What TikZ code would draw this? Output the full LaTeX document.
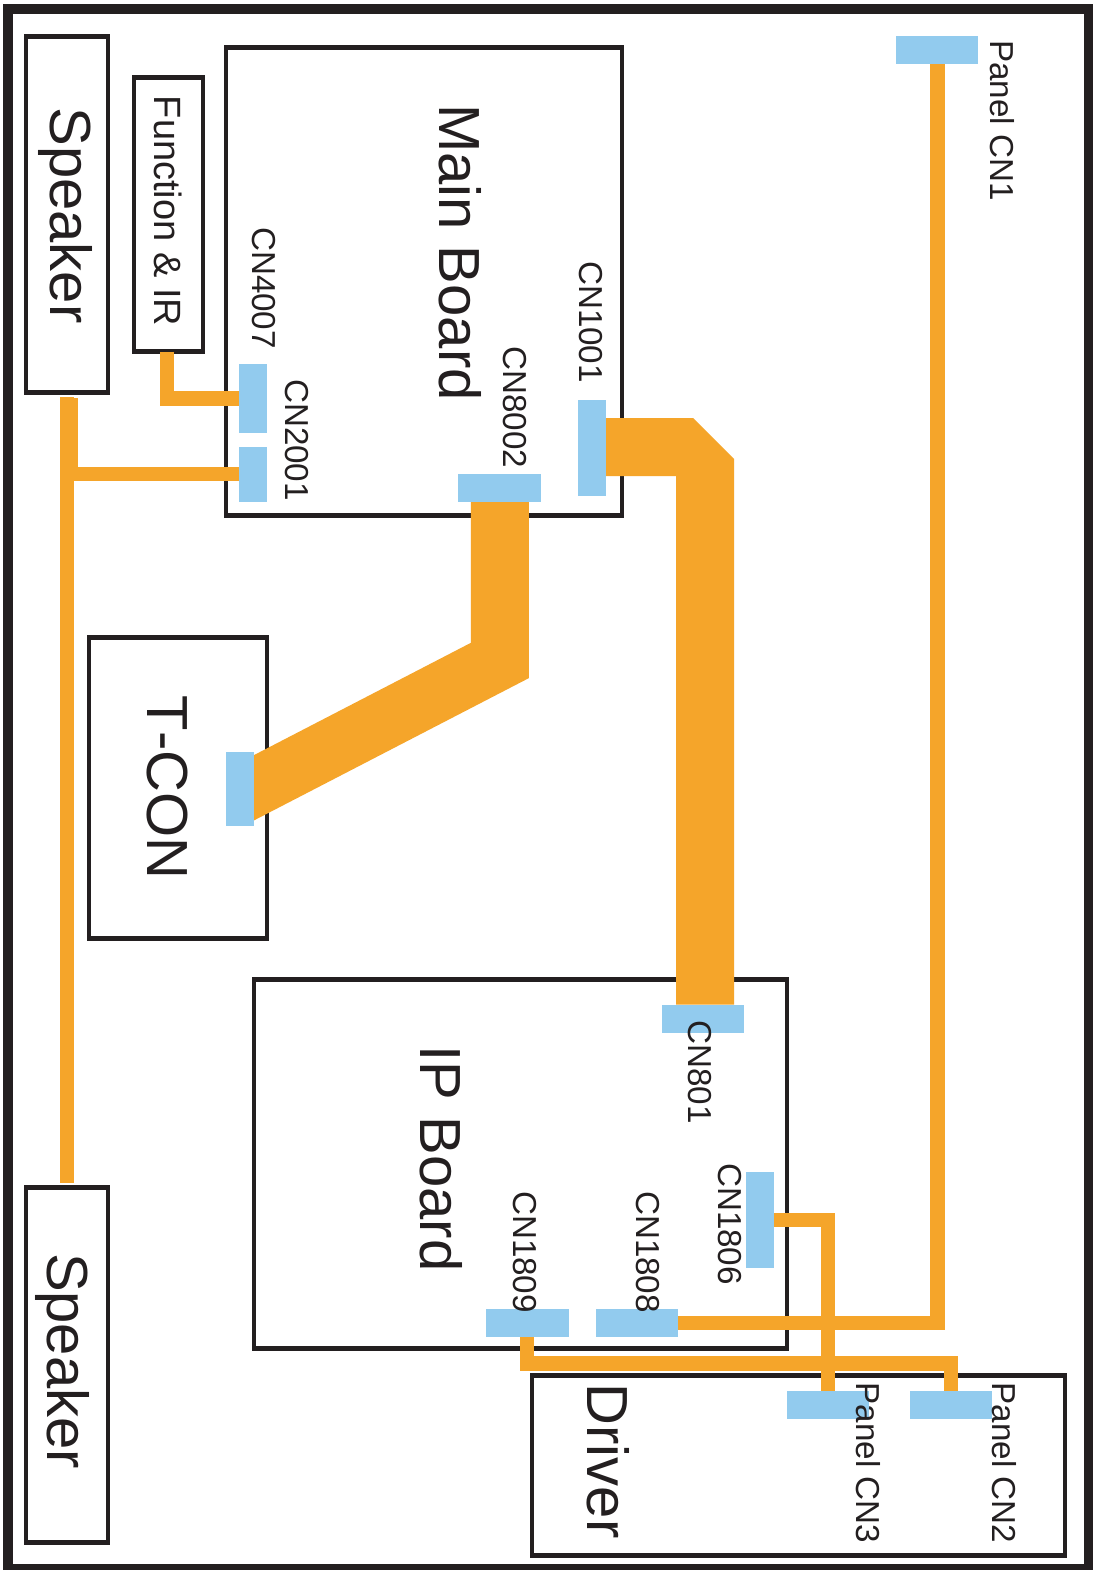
\documentclass[tikz,border=0pt]{standalone}
\usepackage{fontspec}
\setmainfont[Kerning=Off]{Liberation Sans}
\definecolor{ink}{HTML}{231F20}
\definecolor{wirecol}{HTML}{F5A52A}
\definecolor{plug}{HTML}{92CBEE}
\pgfdeclarelayer{boards}
\pgfdeclarelayer{wires}
\pgfsetlayers{boards,wires,main}
\tikzset{
  boardbox/.style={draw=ink,line width=4.7pt,fill=white,inner sep=0pt,outer sep=0pt},
  framebox/.style={draw=ink,line width=9.5pt,inner sep=0pt,outer sep=0pt,minimum width=1080.5pt,minimum height=1559.5pt},
  plugh/.style={fill=plug,inner sep=0pt,outer sep=0pt,minimum width=82.5pt,minimum height=28pt},
  plugv/.style={fill=plug,inner sep=0pt,outer sep=0pt,minimum width=28pt},
  wire/.style={draw=wirecol,line width=14.5pt,line join=miter},
  widewire/.style={draw=wirecol,line width=58pt,line join=miter,miter limit=10},
  lab/.style={rotate=-90,anchor=base,inner sep=0pt,text=ink,yshift=2.5pt},
  big/.style={lab,font=\fontsize{58}{58}\selectfont},
  mid/.style={lab,font=\fontsize{38}{38}\selectfont},
  small/.style={lab,font=\fontsize{33.2}{33.2}\selectfont}
}
\begin{document}
\begin{tikzpicture}[x=1pt,y=-1pt]
\useasboundingbox (0,0) rectangle (1093,1570);
\begin{pgfonlayer}{boards}
\fill[white] (0,0) rectangle (1093,1570);
\node[framebox] (frame) at (548.25,788.75) {};
\node[boardbox,minimum width=82pt,minimum height=356pt] (spkA) at (67,214.5) {};
\node[boardbox,minimum width=82pt,minimum height=355pt] (spkB) at (67,1365) {};
\node[boardbox,minimum width=69pt,minimum height=274pt] (func) at (168.5,214.5) {};
\node[boardbox,minimum width=396pt,minimum height=468pt] (main) at (424,281.5) {};
\node[boardbox,minimum width=178pt,minimum height=301pt] (tcon) at (178,788) {};
\node[boardbox,minimum width=533pt,minimum height=369pt] (ip) at (520.5,1164) {};
\node[boardbox,minimum width=533pt,minimum height=180pt] (drv) at (798.5,1465.5) {};
\end{pgfonlayer}
% plugs
\node[plugv,minimum height=69pt] (cnA) at (253,398.5) {};
\node[plugv,minimum height=55pt] (cnB) at (253,474.5) {};
\node[plugh] (cnC) at (499.5,488) {};
\node[plugv,minimum height=96pt] (cnD) at (592,448) {};
\node[plugv,minimum height=74pt] (cnE) at (240,788.5) {};
\node[plugh] (cnF) at (703,1018.5) {};
\node[plugv,minimum height=96pt] (cnG) at (760,1219.5) {};
\node[plugh] (cnH) at (637,1322.5) {};
\node[plugh] (cnI) at (527.5,1322.5) {};
\node[plugh] (cnJ) at (828,1405) {};
\node[plugh] (cnK) at (951,1405) {};
\node[plugh] (cnL) at (937,50) {};
% routing points
\coordinate (fbend) at (167,398.6);
\coordinate (spkT) at (67,397);
\coordinate (spkJ) at (67,474);
\coordinate (spkE) at (67,1183);
\coordinate (spkW) at (69,398);
\coordinate (spkX) at (69,467);
\coordinate (d1) at (693,418);
\coordinate (d2) at (734,459);
\coordinate (d3) at (676,476);
\coordinate (t1) at (499.8,660.5);
\coordinate (t2) at (240,795);
\coordinate (g1) at (828,1220);
\coordinate (h1) at (937.25,1323);
\coordinate (i1) at (527,1363.7);
\coordinate (i2) at (951,1363.7);
\begin{pgfonlayer}{wires}
\draw[wire] (func.south -| fbend) -- (fbend) -- (fbend -| cnA.west);
\draw[wire] (spkT) -- (spkE);
\draw[wire,line width=18pt] (spkW) -- (spkX);
\draw[wire] (spkJ) -- (spkJ -| cnB.west);
\fill[wirecol] (cnD.east |- d1) -- (d1) -- (d2) -- (d2 |- cnF.north) -- (d3 |- cnF.north) -- (d3) -- (d3 -| cnD.east) -- cycle;
\draw[widewire] (t1 |- cnC.south) -- (t1) -- (t2);
\draw[wire] (cnG.east |- g1) -- (g1) -- (g1 |- cnJ.north);
\draw[wire] (cnH.east |- h1) -- (h1) -- (h1 |- cnL.south);
\draw[wire] (i1 |- cnI.south) -- (i1) -- (i2) -- (cnK.north);
\end{pgfonlayer}
% labels
\node[big] (tA) at (48,215.5) {Speaker};
\node[big] (tB) at (45,1361) {Speaker};
\node[mid] (tC) at (152,211) {Function \& IR};
\node[big] (tD) at (437,252.5) {Main Board};
\node[big] (tE) at (145,787.5) {T-CON};
\node[big] (tF) at (418,1158.5) {IP Board};
\node[big] (tG) at (585,1461) {Driver};
\node[small] (l1) at (250,288) {CN4007};
\node[small] (l2) at (283,440) {CN2001};
\node[small] (l3) at (501,407.5) {CN8002};
\node[small] (l4) at (577,322) {CN1001};
\node[small] (l5) at (686,1072) {CN801};
\node[small] (l6) at (716,1224) {CN1806};
\node[small] (l7) at (634,1252) {CN1808};
\node[small] (l8) at (511,1252) {CN1809};
\node[small] (l9) at (988,120.5) {Panel CN1};
\node[small] (l10) at (990,1463) {Panel CN2};
\node[small] (l11) at (854,1463) {Panel CN3};
\end{tikzpicture}
\end{document}
